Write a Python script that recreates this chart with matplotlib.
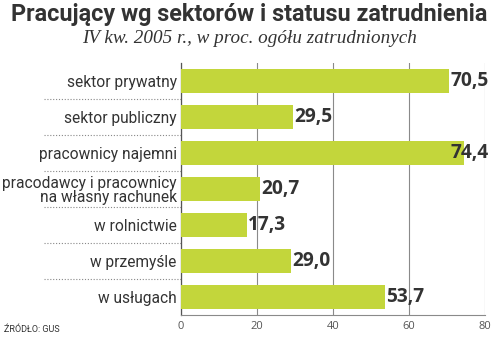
import matplotlib
matplotlib.use("Agg")
import matplotlib.pyplot as plt
import matplotlib.transforms as mtransforms

categories = [
    "sektor prywatny",
    "sektor publiczny",
    "pracownicy najemni",
    "pracodawcy i pracownicy\nna własny rachunek",
    "w rolnictwie",
    "w przemyśle",
    "w usługach",
]
values = [70.5, 29.5, 74.4, 20.7, 17.3, 29.0, 53.7]
x_ticks = [0, 20, 40, 60, 80]

title = "Pracujący wg sektorów i statusu zatrudnienia"
subtitle = "IV kw. 2005 r., w proc. ogółu zatrudnionych"
source = "ŹRÓDŁO: GUS"

bar_color = "#c3d63b"
text_color = "#333333"
grid_color = "#8a8a8a"
sans = ["Roboto", "DejaVu Sans"]

fig = plt.figure(figsize=(4.99, 3.38), dpi=100)
ax = fig.add_axes([0.3627, 0.068, 0.6092, 0.7456])

rows = list(range(len(categories)))
ax.barh(rows, values, height=0.64, color=bar_color, zorder=3)
for row, value in zip(rows, values):
    # keep the longest labels inside the plot's right edge
    ax.text(min(value + 0.4, 71.0), row, f"{value:.1f}".replace(".", ","),
            va="center", ha="left", fontsize=13.8, fontweight="bold",
            family=["Open Sans", "DejaVu Sans"], color=text_color, zorder=4)

ax.set_xlim(0, 80)
ax.set_ylim(len(categories) - 0.5, -0.5)
ax.set_xticks(x_ticks)
ax.set_xticklabels([str(t) for t in x_ticks], fontsize=8, color="#555555",
                   family=["Open Sans", "DejaVu Sans"])
ax.tick_params(axis="x", length=0, pad=4)
ax.set_yticks(rows)
ax.set_yticklabels(categories, fontsize=11.2, color=text_color, family=sans,
                   linespacing=0.95)
ax.tick_params(axis="y", length=0, pad=3)
ax.grid(axis="x", color=grid_color, linewidth=0.8, zorder=1)

for side in ("top", "right"):
    ax.spines[side].set_visible(False)
ax.spines["left"].set_color("#555555")
ax.spines["left"].set_linewidth(0.9)
ax.spines["bottom"].set_color(grid_color)
ax.spines["bottom"].set_linewidth(0.8)

# dotted separators between category labels
trans = mtransforms.blended_transform_factory(ax.transAxes, ax.transData)
for row in rows[:-1]:
    ax.plot([-0.45, 0], [row + 0.5, row + 0.5], transform=trans, clip_on=False,
            color="#888888", linewidth=0.8, linestyle=(0, (1, 1.6)))

fig.text(0.5, 0.957, title, ha="center", va="center", fontsize=16.8,
         fontweight="bold", family=sans, color=text_color)
fig.text(0.5, 0.886, subtitle, ha="center", va="center", fontsize=13.8,
         style="italic", family=["Liberation Serif", "DejaVu Serif"], color=text_color)
fig.text(0.008, 0.024, source, ha="left", va="center", fontsize=6.5,
         family=sans, color=text_color)

fig.savefig("out.png", dpi=100, facecolor="white")
